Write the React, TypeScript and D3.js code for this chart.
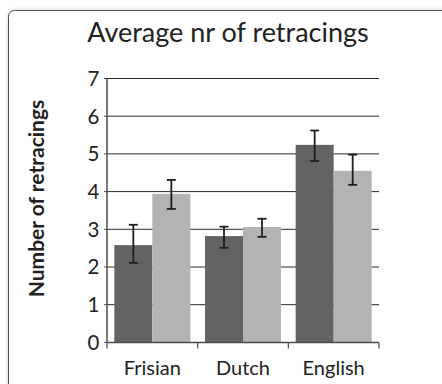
import React from "react";
import * as d3 from "d3";

const categories = ["Frisian", "Dutch", "English"];
const seriesA = [2.58, 2.82, 5.24];
const seriesAErr = [[2.11, 3.12], [2.51, 3.07], [4.81, 5.62]];
const seriesB = [3.94, 3.06, 4.55];
const seriesBErr = [[3.54, 4.31], [2.8, 3.28], [4.18, 4.98]];
const yTicks = [0, 1, 2, 3, 4, 5, 6, 7];
const title = "Average nr of retracings";
const yLabel = "Number of retracings";

const W = 442;
const H = 384;
const left = 107;
const right = 379;
const top = 78.5;
const bottom = 342.4;
const font = "Lato, 'Open Sans', sans-serif";

export default function App() {
  const x = d3.scaleBand<string>().domain(categories).range([left, right]).paddingInner(0).paddingOuter(0);
  const y = d3.scaleLinear().domain([0, 7]).range([bottom, top]);
  const inner = d3
    .scaleBand<string>()
    .domain(["a", "b"])
    .range([0, x.bandwidth()])
    .paddingInner(0)
    .paddingOuter(0.193);

  const series = [
    { key: "a", values: seriesA, err: seriesAErr, color: "#636363" },
    { key: "b", values: seriesB, err: seriesBErr, color: "#b3b3b3" },
  ];

  const xTickPositions = [...categories.map((c) => x(c) as number), right];

  return (
    <svg width={W} height={H} style={{ position: "absolute", left: 0, top: 0 }}>
      <defs>
        <filter id="cardShadow" x="-5%" y="-5%" width="110%" height="110%">
          <feDropShadow dx="0" dy="0" stdDeviation="2" floodColor="#000" floodOpacity="0.18" />
        </filter>
      </defs>
      <rect width={W} height={H} fill="#fff" />
      <rect
        x={8.5}
        y={10.5}
        width={W + 20}
        height={H + 20}
        rx={6}
        fill="#fff"
        stroke="#4d4d4d"
        strokeWidth={1}
        filter="url(#cardShadow)"
      />

      <text x={228} y={42} textAnchor="middle" fontFamily={font} fontSize={27} fill="#222">
        {title}
      </text>

      {/* gridlines */}
      {yTicks.filter((t) => t > 0).map((t) => (
        <line key={t} x1={left} x2={right} y1={y(t)} y2={y(t)} stroke="#2b2b2b" strokeWidth={1} />
      ))}

      {/* bars */}
      {series.map((s) =>
        categories.map((c, i) => (
          <rect
            key={s.key + c}
            x={(x(c) as number) + (inner(s.key) as number)}
            y={y(s.values[i])}
            width={inner.bandwidth()}
            height={bottom - y(s.values[i])}
            fill={s.color}
          />
        ))
      )}

      {/* error bars */}
      {series.map((s) =>
        categories.map((c, i) => {
          const cx = (x(c) as number) + (inner(s.key) as number) + inner.bandwidth() / 2;
          const [lo, hi] = s.err[i];
          return (
            <g key={"e" + s.key + c} stroke="#1e1e1e" strokeWidth={1.8}>
              <line x1={cx} x2={cx} y1={y(hi)} y2={y(lo)} />
              <line x1={cx - 4.5} x2={cx + 4.5} y1={y(hi)} y2={y(hi)} />
              <line x1={cx - 4.5} x2={cx + 4.5} y1={y(lo)} y2={y(lo)} />
            </g>
          );
        })
      )}

      {/* y axis */}
      <line x1={left} x2={left} y1={top} y2={bottom} stroke="#4d4d4d" strokeWidth={1.5} />
      {yTicks.map((t) => (
        <g key={"yt" + t}>
          <line x1={left - 3} x2={left} y1={y(t)} y2={y(t)} stroke="#4d4d4d" strokeWidth={1} />
          <text
            x={99.5}
            y={y(t)}
            dy="0.36em"
            textAnchor="end"
            fontFamily={font}
            fontSize={20.5}
            fill="#222"
          >
            {t}
          </text>
        </g>
      ))}

      {/* x axis */}
      <line x1={left} x2={right} y1={bottom} y2={bottom} stroke="#4d4d4d" strokeWidth={1.5} />
      {xTickPositions.map((p, i) => (
        <line key={"xt" + i} x1={p} x2={p} y1={bottom} y2={bottom + 6} stroke="#4d4d4d" strokeWidth={1.2} />
      ))}
      {categories.map((c) => (
        <text
          key={"xl" + c}
          x={(x(c) as number) + x.bandwidth() / 2}
          y={375}
          textAnchor="middle"
          fontFamily={font}
          fontSize={20}
          fill="#222"
        >
          {c}
        </text>
      ))}

      <text
        transform={`translate(44, 198.5) rotate(-90)`}
        textAnchor="middle"
        fontFamily={font}
        fontSize={21}
        fontWeight="bold"
        fill="#222"
      >
        {yLabel}
      </text>
    </svg>
  );
}
